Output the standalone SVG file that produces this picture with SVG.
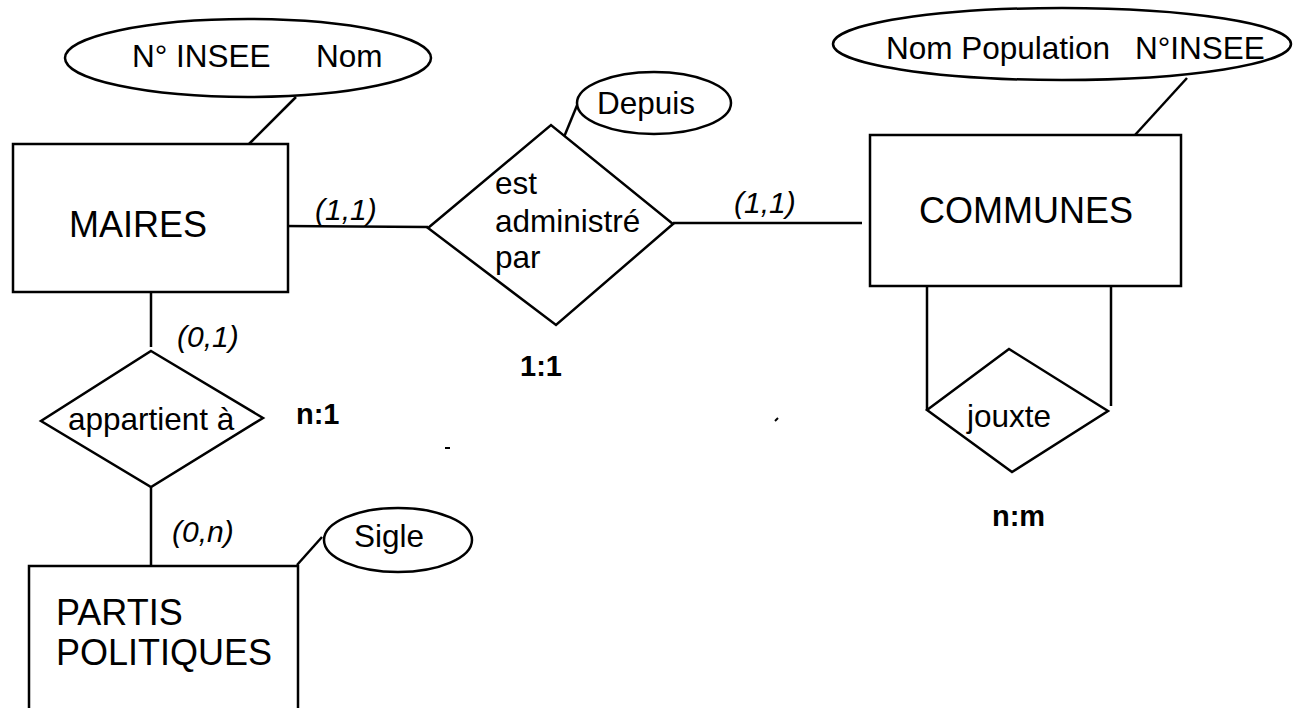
<svg xmlns="http://www.w3.org/2000/svg" width="1314" height="708" viewBox="0 0 1314 708">
<style>
.s{fill:none;stroke:#000;stroke-width:2.5}
.b{fill:#fff;stroke:#000;stroke-width:2.5}
text{font-family:"Liberation Sans",Arial,sans-serif;fill:#000}
.t{font-size:31.5px}
.e{font-size:36px}
.c{font-size:30px;font-style:italic}
.k{font-size:29px;font-weight:bold}
</style>
<rect width="1314" height="708" fill="#fff"/>
<g id="connectors">
<line class="s" x1="296" y1="97" x2="249" y2="144"/>
<line class="s" x1="283" y1="226" x2="428" y2="227"/>
<line class="s" x1="564" y1="137" x2="578" y2="103"/>
<line class="s" x1="673" y1="223" x2="862" y2="223"/>
<line class="s" x1="1187" y1="78" x2="1135" y2="135"/>
<polyline class="s" points="927,286 927,410"/>
<polyline class="s" points="1111,286 1111,406"/>
<line class="s" x1="151" y1="292" x2="151" y2="347"/>
<line class="s" x1="151" y1="487" x2="151" y2="566"/>
<line class="s" x1="297" y1="565" x2="322" y2="537"/>
<line stroke="#000" stroke-width="2" x1="445" y1="448" x2="450" y2="448"/>
<line stroke="#000" stroke-width="2" x1="775" y1="421" x2="778" y2="418"/>
<text class="c" x="315" y="220">(1,1)</text>
<text class="c" x="734" y="213">(1,1)</text>
<text class="c" x="177" y="347">(0,1)</text>
<text class="c" x="172" y="542">(0,n)</text>
<text class="k" x="520" y="376">1:1</text>
<text class="k" x="296" y="424">n:1</text>
<text class="k" x="992" y="526">n:m</text>
</g>
<g id="attr-maires">
<ellipse class="b" cx="248" cy="58" rx="183" ry="39"/>
<text class="t" y="67"><tspan x="132">N° INSEE</tspan><tspan x="316">Nom</tspan></text>
</g>
<g id="maires">
<rect class="b" x="13" y="144" width="275" height="148"/>
<text class="e" x="69" y="237">MAIRES</text>
</g>
<g id="attr-depuis">
<ellipse class="b" cx="654" cy="103" rx="77" ry="31"/>
<text class="t" x="597" y="114">Depuis</text>
</g>
<g id="est-administre-par">
<polygon class="b" points="428,228 551,125 673,224 556,325"/>
<text class="t" x="495" y="194">est</text>
<text class="t" x="495" y="232">administré</text>
<text class="t" x="495" y="268">par</text>
</g>
<g id="attr-communes">
<ellipse class="b" cx="1062" cy="44" rx="229" ry="36"/>
<text class="t" y="59"><tspan x="886">Nom Population</tspan><tspan x="1135">N°INSEE</tspan></text>
</g>
<g id="communes">
<rect class="b" x="870" y="135" width="311" height="151"/>
<text class="e" x="919" y="223">COMMUNES</text>
</g>
<g id="jouxte">
<polygon class="b" points="927,410 1009,349 1108,411 1012,472"/>
<text class="t" x="967" y="427">jouxte</text>
</g>
<g id="appartient">
<polygon class="b" points="151,351 263,418 151,487 41,421"/>
<text class="t" x="68" y="430">appartient à</text>
</g>
<g id="attr-sigle">
<ellipse class="b" cx="398" cy="540" rx="74" ry="32"/>
<text class="t" x="354" y="547">Sigle</text>
</g>
<g id="partis">
<rect class="b" x="29" y="566" width="269" height="160"/>
<text class="e" x="56" y="625">PARTIS</text>
<text class="e" x="56" y="665">POLITIQUES</text>
</g>
</svg>
